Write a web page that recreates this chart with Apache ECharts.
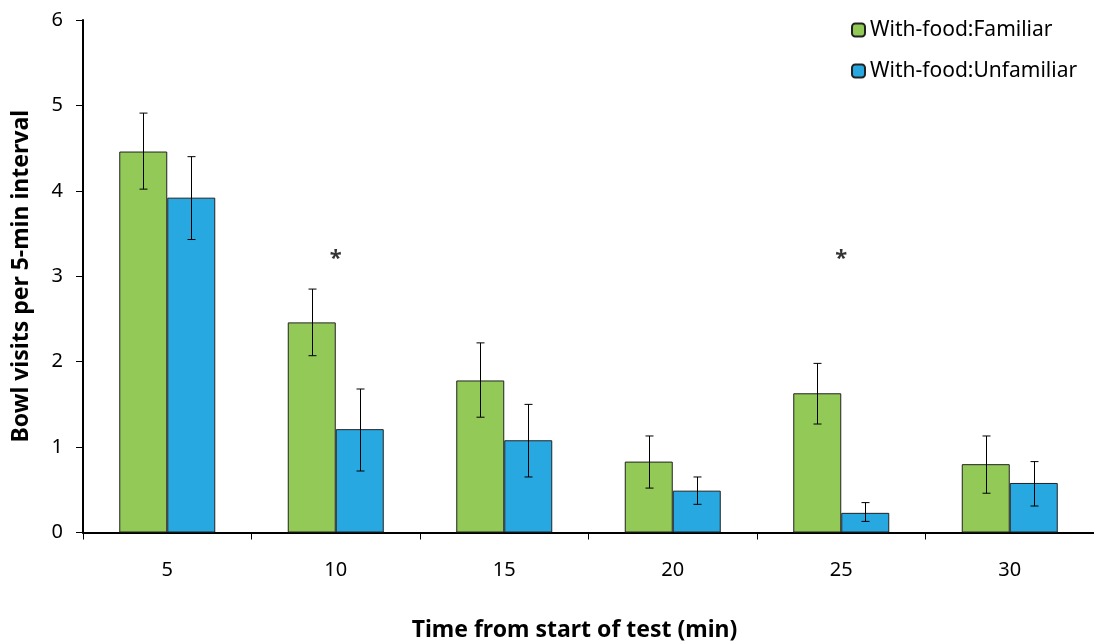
<!DOCTYPE html>
<html>
<head>
<meta charset="utf-8">
<script src="https://cdn.jsdelivr.net/npm/echarts@6/dist/echarts.min.js"></script>
<style>
	html, body { margin: 0; padding: 0; background: #fff; }
	#chart { width: 1094px; height: 641px; }
</style>
</head>
<body>
<div id="chart"></div>
<script>
// data
var categories = ['5', '10', '15', '20', '25', '30'];
var familiar = [4.46, 2.46, 1.78, 0.83, 1.63, 0.80];
var familiarLow = [4.02, 2.07, 1.35, 0.52, 1.27, 0.46];
var familiarHigh = [4.91, 2.85, 2.22, 1.13, 1.98, 1.13];
var unfamiliar = [3.92, 1.21, 1.08, 0.49, 0.23, 0.58];
var unfamiliarLow = [3.43, 0.72, 0.65, 0.33, 0.13, 0.31];
var unfamiliarHigh = [4.40, 1.68, 1.50, 0.65, 0.35, 0.83];
var starCats = ['10', '25'];
var starValue = 3.2;
var yTicks = [0, 1, 2, 3, 4, 5, 6];

var FONT = 'Noto Sans';
var BAR_W = 48;

/**
 * 误差线
 */
function errorSeries(low, high, offset) {
	var data = [];
	for (var i = 0; i < categories.length; i++) {
		data.push([i, low[i], high[i]]);
	}
	return {
		type: 'custom',
		silent: true,
		z: 5,
		encode: { x: 0, y: [1, 2] },
		data: data,
		renderItem: function (params, api) {
			var lo = api.coord([api.value(0), api.value(1)]);
			var hi = api.coord([api.value(0), api.value(2)]);
			var x = Math.round(lo[0] + offset) + 0.5;
			var cap = 4;
			var st = { stroke: '#000', lineWidth: 1 };
			return {
				type: 'group',
				children: [
					{ type: 'line', shape: { x1: x, y1: lo[1], x2: x, y2: hi[1] }, style: st },
					{ type: 'line', shape: { x1: x - cap, y1: lo[1], x2: x + cap, y2: lo[1] }, style: st },
					{ type: 'line', shape: { x1: x - cap, y1: hi[1], x2: x + cap, y2: hi[1] }, style: st }
				]
			};
		}
	};
}

var myChart = echarts.init(document.getElementById('chart'));
var option = {
	backgroundColor: '#fff',
	animation: false,
	textStyle: { fontFamily: FONT },
	grid: { left: 83, right: 0, top: 20, bottom: 108.5, containLabel: false, outerBoundsMode: 'none' },
	legend: {
		orient: 'vertical',
		left: 846,
		top: 12,
		itemWidth: 13,
		itemHeight: 13,
		itemGap: 15,
		data: ['With-food:Familiar', 'With-food:Unfamiliar'],
		textStyle: { fontFamily: FONT, fontSize: 21, color: '#000', lineHeight: 26 }
	},
	xAxis: {
		type: 'category',
		data: categories,
		name: 'Time from start of test (min)',
		nameLocation: 'middle',
		nameGap: 86,
		nameTextStyle: { fontFamily: FONT, fontSize: 23, fontWeight: 'bold', color: '#000', padding: [0, 28, 0, 0] },
		axisLine: { lineStyle: { color: '#000', width: 2 } },
		axisTick: { show: true, length: 7, lineStyle: { color: '#000', width: 1 } },
		axisLabel: { margin: 28, fontSize: 20, color: '#000', fontFamily: FONT },
		splitLine: { show: false }
	},
	yAxis: {
		type: 'value',
		min: yTicks[0],
		max: yTicks[yTicks.length - 1],
		interval: 1,
		name: 'Bowl visits per 5-min interval',
		nameLocation: 'middle',
		nameGap: 50,
		nameTextStyle: { fontFamily: FONT, fontSize: 23, fontWeight: 'bold', color: '#000' },
		axisLine: { show: true, lineStyle: { color: '#000', width: 2 } },
		axisTick: { show: true, length: 7, lineStyle: { color: '#000', width: 1 } },
		axisLabel: { margin: 20, fontSize: 20, color: '#000', fontFamily: FONT },
		splitLine: { show: false }
	},
	series: [
		{
			name: 'With-food:Familiar',
			type: 'bar',
			barWidth: BAR_W,
			barGap: '0%',
			data: familiar,
			itemStyle: { color: '#92C957', borderColor: '#222', borderWidth: 1 }
		},
		{
			name: 'With-food:Unfamiliar',
			type: 'bar',
			barWidth: BAR_W,
			barGap: '0%',
			data: unfamiliar,
			itemStyle: { color: '#28A8E0', borderColor: '#222', borderWidth: 1 }
		},
		errorSeries(familiarLow, familiarHigh, -BAR_W / 2),
		errorSeries(unfamiliarLow, unfamiliarHigh, BAR_W / 2),
		{
			type: 'scatter',
			symbolSize: 0,
			silent: true,
			data: starCats.map(function (c) { return [c, starValue]; }),
			label: {
				show: true,
				position: 'inside',
				formatter: '*',
				fontSize: 22,
				fontWeight: 'bold',
				color: '#000',
				fontFamily: FONT
			}
		}
	]
};
myChart.setOption(option);
</script>
</body>
</html>
